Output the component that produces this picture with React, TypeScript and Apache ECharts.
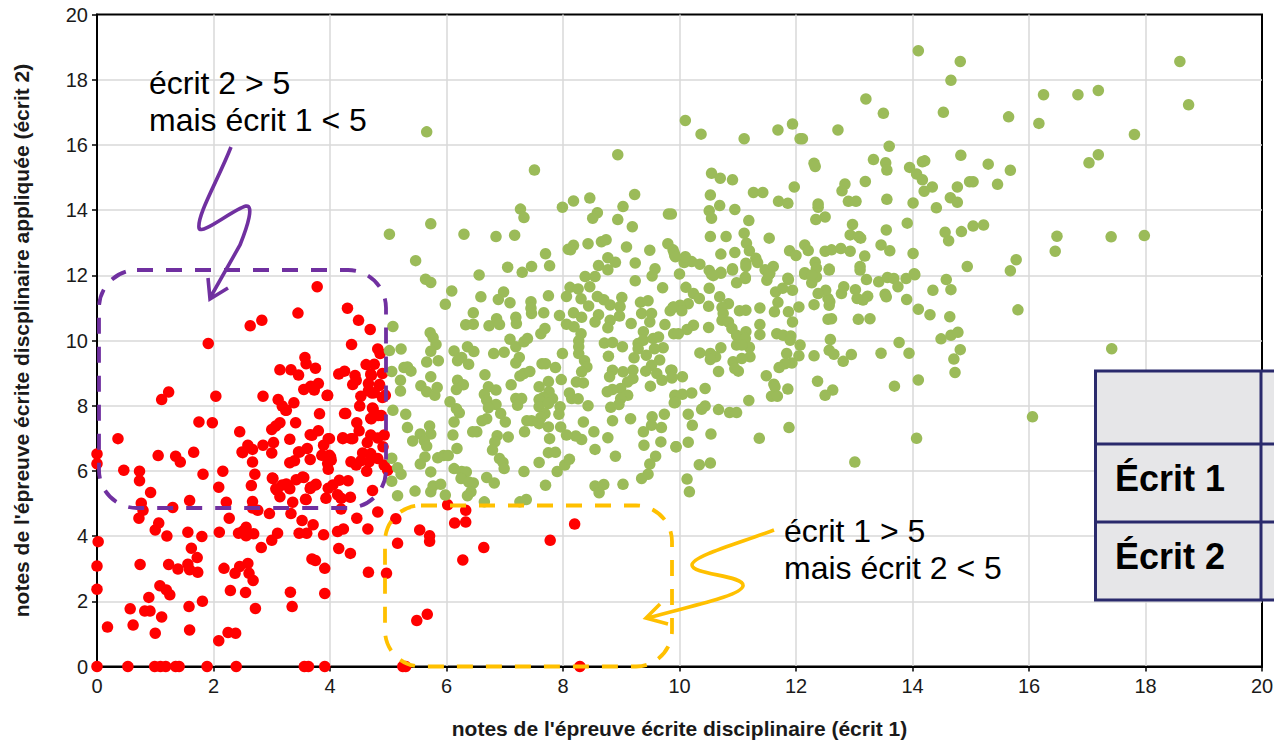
import React, { useEffect, useRef } from "react";
import * as echarts from "echarts";

const xAxisTitle = "notes de l'épreuve écrite disciplinaire (écrit 1)";
const yAxisTitle = "notes de l'épreuve écrite discplinaire appliquée (écrit 2)";
const noteLeft = ["écrit 2 > 5", "mais écrit 1 < 5"];
const noteRight = ["écrit 1 > 5", "mais écrit 2 < 5"];
const tableRows = ["Écrit 1", "Écrit 2"];

const redUpper: number[][] = [
[3.78,11.65],[4.3,10.99],[3.45,10.84],[2.83,10.62],[2.63,10.45],[4.49,10.62],[4.69,10.34],[1.91,9.91],[4.37,9.88],[4.82,9.74],[4.86,9.6],[3.57,9.48],[3.59,9.29],[4.62,9.26],[4.76,9.27],[3.75,9.15],[3.14,9.1],[3.33,9.1],[3.46,8.94],[4.15,8.97],[4.25,9.06],[4.43,8.93],[4.7,8.97],[4.9,8.99],[4.45,8.78],[4.39,8.65],[4.66,8.68],[4.85,8.65],[3.8,8.68],[3.67,8.6],[3.55,8.5],[3.73,8.48],[4.66,8.46],[4.76,8.4],[4.53,8.29],[4.9,8.25],[3.95,8.31],[2.85,8.29],[2.04,8.29],[1.23,8.42],[1.11,8.19],[3.11,8.19],[3.38,8.09],[4.51,7.99],[4.73,7.93],[3.18,7.99],[3.25,7.86],[3.82,7.75],[4.25,7.76],[4.83,7.7],[4.7,7.61],[1.75,7.5],[1.98,7.48],[3.41,7.48],[4.46,7.48],[3.14,7.48],[3.07,7.38],[3.0,7.27],[4.5,7.23],[3.8,7.23],[3.66,7.11],[2.45,7.2],[0.36,6.99],[3.31,6.97],[3.99,6.99],[4.22,7.02],[4.39,6.99],[4.7,7.1],[4.93,7.1],[4.82,7.01],[4.64,6.87],[3.89,6.79],[2.59,6.79],[3.03,6.87],[2.85,6.79],[2.67,6.66],[2.49,6.58],[3.0,6.55],[3.46,6.58],[3.61,6.69],[4.91,6.74],[4.56,6.55],[4.7,6.53],[3.86,6.48],[3.99,6.48],[4.02,6.33],[3.96,6.23],[3.66,6.35],[0,6.52],[0,6.22],[1.05,6.47],[1.35,6.45],[1.43,6.27],[1.66,6.57],[2.67,6.27],[3.31,6.25],[3.39,6.31],[4.36,6.28],[4.45,6.18],[4.53,6.31],[4.82,6.38],[4.93,6.18],[4.67,6.28],[3.97,6.05],[4.63,5.99],[4.99,6.02],[0.46,6.02],[0.73,5.99],[1.82,5.9],[2.16,5.99],[2.71,5.9],[4.71,8.93],[4.85,8.62],[4.95,8.32],[4.72,8.39],[4.74,7.9],[4.71,7.6],[4.88,7.7],[4.27,7.76],[4.22,6.99],[4.36,6.99],[3.97,6.99],[4.01,6.43],[3.69,7.09],[3.96,8.32],[3.24,7.86],[2.5,6.56],[3.48,6.58],[3.02,5.77],[3.09,5.41],[3.27,5.56],[3.55,5.8],[3.76,5.59],[3.66,5.46],[3.59,5.12],
];
const redLower: number[][] = [
[0.73,5.7],[0.92,5.34],[2.09,5.5],[2.65,5.55],[3.01,5.78],[3.07,5.45],[3.18,5.57],[3.25,5.6],[3.31,5.45],[3.42,5.73],[3.53,5.81],[3.14,5.21],[3.67,5.5],[3.75,5.57],[3.97,5.47],[4.05,5.57],[4.16,5.71],[4.31,5.7],[3.93,5.16],[4.13,5.27],[4.19,5.16],[4.35,5.19],[3.58,5.13],[3.36,5.04],[2.67,5.06],[2.22,5.04],[1.59,5.09],[0.76,5.01],[4.73,5.4],[1.3,4.88],[0.79,4.79],[2.67,4.86],[2.76,4.79],[4.19,4.83],[2.96,4.69],[3.33,4.69],[4.82,4.74],[0.72,4.55],[2.27,4.55],[3.52,4.48],[4.46,4.55],[3.71,4.35],[5.13,4.53],[1.06,4.4],[1,4.19],[2.56,4.27],[2.43,4.09],[2.56,4.01],[2.51,4.16],[2.69,4.07],[3.1,4.09],[2.1,4.12],[1.56,4.12],[1.2,4.0],[1.8,3.99],[3.47,4.09],[3.6,4.09],[4.13,4.14],[4.23,4.22],[3.89,4.04],[4.65,4.22],[5.54,4.19],[5.71,4.01],[5.71,3.84],[6.14,4.4],[6.33,4.43],[6.33,4.79],[6.02,4.96],[8.2,4.37],[7.78,3.87],[6.64,3.65],[6.28,3.27],[5.16,3.78],[0.02,3.83],[1.62,3.63],[3,3.87],[2.82,3.65],[4.15,3.62],[4.35,3.47],[1.72,3.34],[3.69,3.3],[3.75,3.25],[0,3.08],[0.74,3.13],[1.23,3.13],[1.56,3.14],[1.39,2.99],[1.59,2.97],[1.73,2.89],[2.18,3.01],[2.45,3.07],[2.59,3.16],[2.37,2.86],[2.61,2.86],[2.68,2.64],[3.91,3.01],[4.66,2.89],[4.97,2.86],[0,2.37],[1.08,2.48],[1.19,2.35],[1.25,2.2],[0.89,2.12],[2.29,2.33],[2.55,2.27],[3.32,2.28],[3.91,2.24],[1.58,1.84],[1.81,2.0],[0.57,1.77],[0.82,1.7],[0.91,1.7],[1.11,1.52],[2.72,1.78],[3.35,1.84],[0.62,1.27],[0.18,1.21],[1,1.02],[1.59,1.12],[2.25,1.04],[2.38,1.02],[2.09,0.79],[5.67,1.6],[5.49,1.41],
];
const redOnZero: number[] = [0,0.53,0.99,1.09,1.18,1.35,1.41,1.89,2.39,3.56,3.63,3.91,5.25,5.3,8.29];

const greenLow: number[][] = [
[5.08,10.43],[5.02,9.69],[5.22,9.74],[5.72,10.24],[5.77,10.09],[5.82,9.88],[5.73,9.67],[5.86,9.38],[5.66,9.34],[6.13,9.68],[6.36,9.81],[6.47,9.66],[6.26,9.48],[6.19,9.38],[6.38,9.27],[6.81,9.6],[6.99,9.64],[6.33,10.48],[6.46,10.5],[6.46,10.85],[6.73,10.45],[6.86,10.67],[6.91,10.49],[7.19,10.71],[7.2,10.52],[7.46,10.83],[7.67,10.85],[7.94,10.77],[7.09,10.04],[7.19,9.81],[7.33,9.96],[7.39,10.06],[7.62,10.21],[7.69,10.37],[7.25,9.48],[7.19,9.31],[5.27,9.17],[5.33,9.19],[5.39,9.06],[5.06,9.05],[5.21,8.78],[5.21,8.45],[5.73,8.89],[5.56,8.61],[5.66,8.43],[5.8,8.32],[5.84,8.56],[6.66,8.95],[6.19,8.78],[6.29,8.64],[6.17,8.5],[6.72,8.58],[6.85,8.48],[6.65,8.35],[6.69,8.17],[6.85,8.04],[6.72,7.94],[7.11,8.64],[7.26,8.91],[7.33,8.99],[7.43,9.05],[7.64,9.29],[7.7,9.29],[7.87,9.17],[7.97,8.8],[7.75,8.74],[7.59,8.58],[7.76,8.43],[7.82,8.22],[7.66,8.25],[7.59,8.19],[7.59,7.97],[7.75,8.07],[7.19,8.22],[7.29,8.22],[7.22,8.01],[7.69,7.76],[7.62,7.64],[7.95,7.97],[7.93,7.74],[8.11,8.39],[8.15,8.22],[8.26,8.21],[8.43,8.0],[8.82,7.95],[8.35,7.5],[8.85,7.54],[9.16,7.6],[9.74,7.74],[9.53,7.66],[9.52,7.4],[9.69,7.33],[9.38,7.2],[9.68,6.89],[9.39,6.79],[9.94,6.74],[9.59,6.45],[9.49,6.21],[9.46,5.9],[9.35,5.77],[9.03,5.59],[8.55,5.54],[8.7,5.58],[8.62,5.33],[7.7,5.56],[7.9,5.98],[8.03,6.18],[8.11,6.36],[8.55,6.66],[8.9,6.45],[8.53,7.2],[8.77,7.02],[8.32,6.96],[8.22,7.07],[8.06,7.1],[7.96,7.35],[7.75,7.35],[7.77,6.99],[7.59,7.45],[7.46,7.54],[7.38,7.54],[7.34,7.2],[7.59,6.26],[7.75,6.56],[7.87,6.57],[7.33,5.98],[7.06,7.04],[6.87,7.08],[6.83,6.89],[6.79,6.64],[6.91,6.38],[6.97,6.26],[6.99,6.07],[7.01,7.5],[6.93,7.76],[6.69,7.6],[6.61,7.54],[6.52,7.2],[6.45,7.2],[6.11,7.1],[6.18,6.69],[6.13,7.5],[6.22,7.78],[6.17,7.91],[6.06,8.12],[5.3,7.74],[5.08,7.86],[5.33,7.33],[5.71,7.38],[5.73,7.13],[5.55,7.13],[5.42,6.92],[5.62,6.92],[5.66,6.76],[5.06,6.39],[5.63,6.43],[5.55,6.21],[5.85,6.4],[5.95,6.47],[6.03,6.47],[5.16,6.1],[5.22,5.9],[5.73,5.97],[6.13,6.07],[6.26,5.98],[6.34,5.97],[6.25,5.77],[6.38,5.66],[6.46,5.63],[6.42,5.36],[6.36,5.24],[6.69,5.8],[6.82,5.63],[5.06,5.68],[5.16,5.24],[5.46,5.38],[5.73,5.36],[5.77,5.54],[5.9,5.59],[5.98,5.26],[6.65,5.05],[7.26,5.05],[7.37,5.12],
[8.06,10.5],[8.19,10.42],[8.31,10.21],[8.27,9.99],[8.27,9.81],[8.27,9.6],[8.37,9.38],[8.41,9.19],[8.32,9.04],[8.23,8.73],[8.35,8.7],[7.99,9.6],[8.18,10.85],[8.32,10.71],[8.61,10.79],[8.55,10.57],[8.81,10.62],[8.77,10.39],[8.97,10.75],[9.17,10.52],[8.71,9.92],[8.85,9.94],[9.02,9.81],[8.78,9.52],[9.22,9.47],[9.38,10.27],[9.29,9.91],[9.38,10.01],[9.55,10.06],[9.64,10.11],[9.72,9.78],[9.29,9.75],[9.43,9.55],[9.57,9.75],[9.66,9.4],[9.52,9.24],[9.42,9.06],[9.75,10.49],[9.9,10.21],[9.49,10.57],[9.35,10.83],[9.52,10.83],[9.84,10.91],[9.61,8.99],[9.7,8.78],[9.85,9.09],[9.87,8.85],[9.5,8.6],[9.2,9.09],[9.2,8.83],[9.03,9.04],[8.85,9.09],[8.8,8.89],[9.11,8.73],[8.99,8.53],[8.85,8.5],[8.76,8.43],[9.11,8.32],[8.99,8.22],[8.96,8.04],[9.92,8.32],[9.91,8.09],
];
const greenUpperLeft: number[][] = [
[5.66,16.4],[7.51,15.23],[8.94,15.7],[9.23,14.48],[8.46,14.37],[8.18,14.28],[7.99,14.09],[9.03,14.11],[7.27,14.03],[7.33,13.77],[8.59,13.92],[8.51,13.75],[8.94,13.71],[9.19,13.49],[9.81,13.88],[5.73,13.58],[5.02,13.26],[6.3,13.26],[6.85,13.19],[7.17,13.23],[5.47,12.45],[5.64,11.88],[5.73,11.78],[6.56,12.01],[7.05,12.25],[7.3,12.09],[7.46,12.27],[7.77,12.29],[7.7,12.66],[8.18,12.92],[8.09,12.8],[8.13,12.78],[8.43,12.97],[8.66,13.03],[8.74,13.09],[9.09,12.87],[9.49,12.77],[9.8,12.97],[9.89,12.78],[9.92,12.6],[8.77,12.54],[8.9,12.4],[9.24,12.38],[8.61,12.3],[8.77,12.17],[9.58,12.2],[9.53,11.98],[8.55,11.96],[8.38,11.96],[10,12.04],[9.24,11.83],[9.71,11.62],[8.46,11.65],[8.12,11.63],[8.26,11.58],[8.06,11.35],[8.31,11.28],[8.59,11.35],[8.7,11.25],[8.81,11.09],[9.01,11.32],[8.98,11.04],[7.75,11.37],[7.45,11.19],[7.45,10.99],[7.09,11.16],[6.98,11.49],[6.89,11.26],[6.59,11.34],[6.09,11.52],[5.98,11.11],[8.44,11.06],[9.33,11.17],[9.46,11.22],[9.89,11.02],
];
const greenRightLow: number[][] = [
[10.55,12.03],[10.71,12.06],[10.91,12.16],[10.98,11.77],[11.13,11.9],[11.5,11.85],[11.55,12.06],[11.87,11.87],[10.11,11.63],[10.51,11.6],[10.24,11.44],[10.34,11.29],[10.69,11.34],[10.15,11.13],[10.01,11.08],[9.9,11.03],[10.04,10.91],[10.5,11.05],[10.84,11.13],[10.73,11.01],[10.75,10.83],[11.03,10.91],[11.14,10.93],[11.38,11.0],[11.69,11.17],[11.65,11.49],[11.77,11.6],[11.94,11.54],[11.63,10.88],[11.87,10.88],[12.05,11.03],[11.94,10.57],[10.73,10.62],[10.84,10.57],[11.38,10.49],[11.38,10.18],[10.5,10.4],[10.24,10.47],[10.13,10.34],[9.98,10.21],[10.9,10.37],[10.98,10.16],[11.14,10.27],[11.13,10.06],[10.98,9.86],[11.2,9.79],[11.07,9.86],[11.67,10.21],[11.78,10.16],[11.91,10.14],[11.9,10.01],[12.07,9.86],[11.84,9.6],[12.05,9.53],[11.93,9.31],[11.81,9.29],[11.71,9.17],[12.31,9.53],[12.59,10.03],[12.57,9.7],[12.65,9.58],[12.81,9.36],[12.95,9.57],[13.46,9.61],[13.77,9.94],[13.94,9.61],[14.49,10.05],[14.66,10.16],[14.78,10.25],[14.82,9.72],[14.71,9.43],[14.73,9.02],[12.37,8.75],[12.63,8.48],[12.5,8.32],[13.69,8.6],[14.1,8.79],[14.07,7.0],[13.01,6.27],[11.88,7.33],[11.37,7.0],[11.19,8.16],[11.86,8.51],[11.49,8.92],[11.62,8.66],[11.64,8.58],[11.58,8.29],[11.68,8.29],[10.67,9.05],[11.01,9.06],[10.92,9.35],[10.95,9.14],[11.21,9.5],[11.07,9.45],[10.71,9.78],[10.62,9.5],[10.53,9.6],[10.53,9.42],[10.35,9.62],[10.05,8.89],[9.87,9.09],[9.87,8.87],[10.44,8.53],[10.21,8.39],[10.05,8.35],[9.93,8.27],[9.93,8.1],[10.67,7.88],[10.44,7.99],[10.38,7.89],[10.86,7.79],[10.98,7.79],[10.15,7.74],[10.22,7.4],[10.54,7.13],[10.15,6.88],[9.94,6.74],[10.34,6.19],[10.53,6.24],[10.13,5.75],[10.17,5.36],
[13.21,11.87],[13.42,11.8],[13.57,11.93],[13.68,11.9],[13.89,11.9],[14.04,12.02],[13.75,11.65],[13.9,11.26],[14.1,10.96],[14.3,10.79],[14.64,10.73],[14.35,11.54],[14.66,11.56],[14.58,11.87],[13.53,11.42],[13.55,11.34],[13.23,11.36],[13.15,11.24],[13.05,11.29],[13.02,11.56],[13.07,10.65],[13.27,10.67],[12.55,10.65],[12.61,10.67],[12.58,11.19],[12.57,11.08],[12.55,11.29],[12.51,11.54],[12.38,11.44],[12.31,11.1],[12.78,11.44],[12.82,11.65],[12.15,12.03],[12.27,11.77],[12.35,11.95],[12.57,12.16],[13.1,12.16],
];
const greenUpperRight: number[][] = [
[13.2,17.41],[13.5,16.97],[14.53,17.0],[10.1,16.75],[10.37,16.33],[11.11,16.19],[11.69,16.46],[11.94,16.64],[12.07,16.19],[12.11,16.19],[12.72,16.46],[13.6,15.96],[14.83,15.68],[13.33,15.55],[13.54,15.45],[13.56,15.23],[12.31,15.44],[12.33,15.34],[13.95,15.31],[14.17,15.48],[14.21,15.51],[14.07,15.11],[14.17,14.93],[14.34,14.71],[14.2,14.58],[14.77,14.71],[14.65,14.38],[14.77,14.24],[14.98,14.87],[10.55,15.13],[10.7,14.98],[10.91,14.93],[10.53,14.46],[10.69,14.14],[10.51,13.98],[10.55,13.75],[10.95,14.02],[11.19,13.68],[11.27,14.54],[11.43,14.54],[11.97,14.71],[11.7,14.27],[11.86,14.21],[12.38,14.19],[12.38,14.09],[12.5,13.79],[12.34,13.71],[12.84,14.8],[12.79,14.59],[12.9,14.27],[13.03,14.27],[13.19,14.88],[13.56,14.33],[14.01,14.22],[14.41,14.07],[13.91,13.6],[13.55,13.39],[12.97,13.56],[12.93,13.24],[13.08,13.19],[13.11,13.14],[13.46,12.93],[13.61,12.75],[14.01,12.67],[13.18,12.59],[14.56,13.32],[14.62,13.06],[14.84,13.34],[14.94,12.27],[13.1,12.27],[10.53,13.19],[10.8,13.19],[11.11,13.29],[11.54,13.14],[11.15,12.98],[11.2,12.75],[11.31,12.52],[11.34,12.39],[11.14,12.37],[11.14,12.27],[10.71,12.65],[10.95,12.7],[10.91,12.2],[10.71,12.09],[10.51,12.15],[10.58,11.99],[10.35,12.34],[10.21,12.42],[10.08,12.39],[10.1,12.57],[9.91,12.68],[9.93,12.57],[9.86,13.88],[11.47,12.17],[11.61,12.27],[11.53,12.01],[11.89,12.75],[12,12.61],[12.15,12.93],[12.21,12.76],[12.5,12.74],[12.61,12.78],[12.77,12.82],[12.93,12.74],[12.33,12.4],[12.35,12.22],[12.15,12.08],[12.27,12.01],[12.57,12.19],[11.86,11.91],[11.13,11.94],[14.03,12.05],
];
const greenFar: number[][] = [
[14.1,18.89],[14.82,18.56],[14.66,17.98],[15.65,16.86],[16.25,17.54],[16.17,16.66],[16.84,17.54],[17.19,17.67],[18.59,18.56],[18.74,17.23],[17.81,16.32],[17.19,15.7],[17.03,15.45],[15.3,15.41],[15.68,15.22],[15.04,14.87],[15.46,14.79],[16.48,13.2],[16.45,12.74],[17.41,13.18],[17.98,13.22],[15.04,13.51],[15.22,13.54],[15.78,12.48],[15.68,12.14],[15.81,10.94],[17.42,9.75],[16.06,7.66],
];

const redSeries = [...redUpper, ...redLower, ...redOnZero.map((x) => [x, 0])];
const greenSeries = [...greenLow, ...greenUpperLeft, ...greenRightLow, ...greenUpperRight, ...greenFar];

const PURPLE = "#7030a0";
const ORANGE = "#ffc000";
const NAVY = "#2a2a6c";
const FONT = '"Liberation Sans", Arial, sans-serif';

echarts.graphic.registerShape(
  "boltPurple",
  echarts.graphic.extendPath("M231 147 C218 180 197 215 199 228 C201 236 232 210 246 206 C254 205 248 225 240 245 L210 298 M208 278 L210 299 L228 288", {})
);
echarts.graphic.registerShape(
  "boltOrange",
  echarts.graphic.extendPath("M774 530 C740 543 692 556 692 565 C692 575 745 575 743 586 C741 596 690 606 648 618 M660 604 L646 618 L668 624", {})
);

function noteText(text: string, x: number, y: number) {
  return { type: "text", z: 20, style: { text, x, y, fill: "#000", font: `32px ${FONT}`, textVerticalAlign: "middle" } };
}

export default function App() {
  const ref = useRef<HTMLDivElement>(null);
  useEffect(() => {
    document.body.style.margin = "0";
    document.body.style.overflow = "hidden";
    const chart = echarts.init(ref.current!, undefined, { renderer: "svg" });
    const axisCommon = {
      min: 0,
      max: 20,
      interval: 2,
      axisLine: { show: true, onZero: false, lineStyle: { color: "#000", width: 2 } },
      axisTick: { show: true, length: 5, lineStyle: { color: "#000", width: 1.5 } },
      splitLine: { show: true, showMinLine: false, showMaxLine: false, lineStyle: { color: "#d9d9d9", width: 1.5 } },
      axisLabel: { color: "#1a1a1a", fontSize: 20, fontFamily: FONT, margin: 9, showMinLabel: true, showMaxLabel: true },
    };
    chart.setOption({
      animation: false,
      backgroundColor: "#fff",
      grid: { left: 97, top: 14.5, width: 1165, height: 652, show: true, borderColor: "#000", borderWidth: 2, backgroundColor: "transparent", outerBoundsMode: "none" },
      xAxis: {
        type: "value",
        ...axisCommon,
        name: xAxisTitle,
        nameLocation: "middle",
        nameGap: 51,
        nameTextStyle: { fontSize: 21, fontWeight: "bold", fontFamily: FONT, color: "#1a1a1a" },
      },
      yAxis: {
        type: "value",
        ...axisCommon,
        name: yAxisTitle,
        nameLocation: "middle",
        nameGap: 65,
        nameTextStyle: { fontSize: 21, fontWeight: "bold", fontFamily: FONT, color: "#1a1a1a" },
      },
      series: [
        { type: "scatter", data: redSeries, symbolSize: 11.5, clip: false, itemStyle: { color: "#ff0000", opacity: 1 } },
        { type: "scatter", data: greenSeries, symbolSize: 11.5, clip: false, itemStyle: { color: "#9bbb59", opacity: 1 } },
      ],
      graphic: [
        { type: "rect", z: 15, shape: { x: 99, y: 270, width: 287, height: 238, r: 38 }, style: { fill: "none", stroke: PURPLE, lineWidth: 3.8, lineDash: [16, 13] } },
        { type: "rect", z: 15, shape: { x: 385, y: 505.5, width: 287, height: 161, r: 36 }, style: { fill: "none", stroke: ORANGE, lineWidth: 3.8, lineDash: [16, 13] } },
        { type: "boltPurple", z: 16, x: 0, y: 0, scaleX: 1, scaleY: 1, style: { fill: "none", stroke: PURPLE, lineWidth: 3.6 } },
        { type: "boltOrange", z: 16, x: 0, y: 0, scaleX: 1, scaleY: 1, style: { fill: "none", stroke: ORANGE, lineWidth: 3.6 } },
        noteText(noteLeft[0], 149, 83),
        noteText(noteLeft[1], 149, 120),
        noteText(noteRight[0], 784, 531),
        noteText(noteRight[1], 784, 568),
        { type: "rect", z: 18, shape: { x: 1095.5, y: 371, width: 190, height: 229 }, style: { fill: "#e6e6e8", stroke: NAVY, lineWidth: 3 } },
        { type: "line", z: 19, shape: { x1: 1095.5, y1: 444, x2: 1285, y2: 444 }, style: { stroke: NAVY, lineWidth: 3 } },
        { type: "line", z: 19, shape: { x1: 1095.5, y1: 522, x2: 1285, y2: 522 }, style: { stroke: NAVY, lineWidth: 3 } },
        { type: "line", z: 19, shape: { x1: 1261, y1: 371, x2: 1261, y2: 600 }, style: { stroke: NAVY, lineWidth: 3 } },
        { type: "text", z: 20, style: { text: tableRows[0], x: 1115, y: 478, fill: "#000", font: `bold 36px ${FONT}`, textVerticalAlign: "middle" } },
        { type: "text", z: 20, style: { text: tableRows[1], x: 1115, y: 556, fill: "#000", font: `bold 36px ${FONT}`, textVerticalAlign: "middle" } },
      ],
    });
    return () => chart.dispose();
  }, []);
  return <div ref={ref} style={{ width: 1274, height: 740 }} />;
}
